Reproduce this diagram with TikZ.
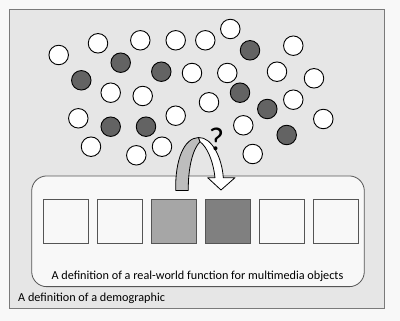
\documentclass[tikz,border=0pt]{standalone}
\usepackage{fontspec}
\setmainfont{Carlito}
\definecolor{pagebg}{HTML}{F8F8F8}
\definecolor{panelbg}{HTML}{E6E6E6}
\definecolor{panelline}{HTML}{7A7A7A}
\definecolor{darkdot}{HTML}{636363}
\definecolor{boxline}{HTML}{555555}
\definecolor{bandgray}{HTML}{BDBDBD}
\begin{document}
\begin{tikzpicture}[x=1pt,y=-1pt,
  dot/.style={circle,draw=black,line width=0.9pt,fill=white,minimum size=19.5pt,inner sep=0pt},
  darkdot/.style={dot,fill=darkdot},
  cell/.style={draw=boxline,line width=0.8pt,fill=pagebg,minimum width=45pt,minimum height=44.4pt,inner sep=0pt},
  caption/.style={font=\fontsize{12.2}{14}\selectfont,inner sep=0pt}]
\useasboundingbox[fill=pagebg] (0,0) rectangle (400,321);
% outer panel: the demographic
\node[draw=panelline,line width=0.9pt,fill=panelbg,minimum width=375pt,minimum height=299pt,inner sep=0pt] (demo) at (196.5,158.5) {};
\node[caption,anchor=west] (demolabel) at (18,298) {A definition of a demographic};
% population of objects
\foreach \x/\y/\s [count=\i] in {58.7/55/dot,98/43.3/dot,140.3/40.3/dot,175.7/40.3/dot,205.3/40.3/dot,
  230.3/29/dot,250/50.3/darkdot,293.3/45.7/dot,120.7/62.7/darkdot,81.3/80.3/darkdot,161.3/71.7/darkdot,
  192/73/dot,227.3/73/dot,277/71.7/dot,314/78.3/dot,110.7/92.7/dot,142.7/96/dot,240/92.7/darkdot,
  209/102.3/dot,293.3/99.7/dot,267.3/109/darkdot,78.3/118.3/dot,175.7/115.7/dot,323.3/119/dot,
  110.7/126.7/darkdot,146/126.7/darkdot,243.3/125.3/dot,286.7/135/darkdot,91/146.7/dot,162/146.7/dot,
  136.3/155.3/dot,252.7/154/dot}
  \node[\s] (obj\i) at (\x,\y) {};
% the function box
\node[draw=boxline,line width=0.8pt,fill=pagebg,rounded corners=15pt,minimum width=332.6pt,minimum height=110.7pt,inner sep=0pt] (func) at (198,231.3) {};
\foreach \c [count=\i from 0] in {pagebg,pagebg,black!35,black!50,pagebg,pagebg}
  \node[cell,fill=\c] (cell\i) at (65.8+54.1*\i,221.5) {};
\node[caption] (funclabel) at (197.5,276) {A definition of a real-world function for multimedia objects};
% curved arrow into the box
\filldraw[fill=bandgray,draw=black,line width=0.8pt,line join=round]
  (175.7,190.5) .. controls (175,160) and (184,138) .. (198.5,137.5)
  -- (200,141.7) .. controls (192,150) and (188,170) .. (188.3,190.5) -- cycle;
\filldraw[fill=white,draw=black,line width=0.8pt,line join=round]
  (198.5,137.5) .. controls (212,137) and (222,158) .. (223.3,177.7)
  -- (235,177.7) -- (221,190) -- (207.7,177.7) -- (215,177.7)
  .. controls (213,160) and (207,147) .. (200,141.7) -- cycle;
\node[inner sep=0pt,font=\fontsize{33}{33}\selectfont] (ask) at (216.5,139) {?};
\end{tikzpicture}
\end{document}
